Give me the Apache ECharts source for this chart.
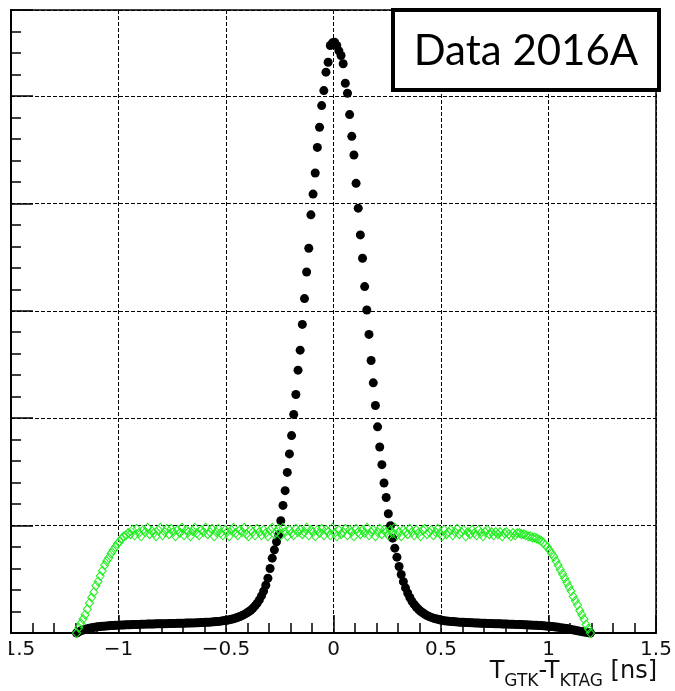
<!DOCTYPE html>
<html><head><meta charset="utf-8">
<script src="https://cdn.jsdelivr.net/npm/echarts@6/dist/echarts.min.js"></script>
<style>html,body{margin:0;padding:0;background:#fff;overflow:hidden;} #c{width:675px;height:691px;}</style>
</head><body><div id="c"></div>
<script>
// Histogram binning (bin centres start at BIN_START, width BIN_WIDTH, in ns)
const BIN_START = -1.195;
const BIN_WIDTH = 0.01;

// Black points: matched kaon timing T_GTK - T_KTAG (arbitrary units, gridline = 1)
const matchedCounts = [
0.000,0.010,0.020,0.028,0.035,0.040,0.045,0.049,0.052,0.055,
0.058,0.060,0.062,0.064,0.066,0.067,0.069,0.070,0.071,0.072,
0.073,0.074,0.075,0.076,0.077,0.077,0.078,0.079,0.080,0.080,
0.081,0.082,0.082,0.083,0.083,0.084,0.084,0.085,0.085,0.086,
0.086,0.087,0.087,0.088,0.088,0.089,0.089,0.090,0.090,0.091,
0.091,0.092,0.092,0.093,0.094,0.094,0.095,0.096,0.097,0.098,
0.099,0.100,0.101,0.103,0.104,0.106,0.108,0.110,0.113,0.116,
0.119,0.123,0.128,0.133,0.139,0.146,0.154,0.163,0.173,0.185,
0.198,0.212,0.230,0.252,0.278,0.308,0.345,0.390,0.445,0.510,
0.600,0.697,0.774,0.850,0.914,1.045,1.188,1.325,1.495,1.667,
1.838,2.034,2.220,2.447,2.633,2.873,3.113,3.361,3.582,3.893,
4.086,4.282,4.521,4.708,4.910,5.050,5.221,5.314,5.470,5.494,
5.500,5.470,5.420,5.376,5.300,5.118,5.025,4.826,4.624,4.450,
4.186,3.955,3.706,3.489,3.225,3.007,2.780,2.537,2.329,2.118,
1.919,1.732,1.567,1.396,1.262,1.110,0.998,0.883,0.790,0.706,
0.619,0.545,0.478,0.420,0.372,0.330,0.295,0.266,0.242,0.221,
0.203,0.188,0.175,0.163,0.153,0.145,0.138,0.132,0.127,0.122,
0.118,0.115,0.112,0.110,0.108,0.106,0.104,0.103,0.101,0.100,
0.099,0.098,0.097,0.096,0.095,0.094,0.093,0.092,0.091,0.090,
0.090,0.089,0.088,0.088,0.087,0.086,0.086,0.085,0.084,0.084,
0.083,0.082,0.082,0.081,0.080,0.080,0.079,0.078,0.077,0.076,
0.075,0.074,0.073,0.072,0.071,0.070,0.069,0.067,0.066,0.064,
0.062,0.060,0.058,0.056,0.053,0.050,0.047,0.044,0.041,0.037,
0.033,0.029,0.025,0.021,0.017,0.013,0.009,0.006,0.003,0.000
];

// Green open diamonds: accidental (flat) timing distribution
const accidentalCounts = [
0.00,0.05,0.09,0.13,0.17,0.22,0.28,0.33,0.38,0.44,
0.48,0.53,0.58,0.63,0.67,0.70,0.74,0.77,0.80,0.83,
0.85,0.88,0.90,0.91,0.93,0.92,
0.96,0.91,0.97,0.93,0.90,0.96,0.94,0.98,0.92,0.95,
0.93,0.90,0.96,0.98,0.91,0.94,0.97,0.92,0.97,0.94,
0.90,0.96,0.93,0.98,0.91,0.96,0.94,0.90,0.95,0.98,
0.93,0.91,0.96,0.94,0.98,0.92,0.94,0.97,0.90,0.94,
0.97,0.93,0.91,0.96,0.94,0.90,0.96,0.98,0.93,0.91,
0.96,0.94,0.98,0.92,0.90,0.96,0.94,0.91,0.97,0.94,
0.91,0.96,0.93,0.90,0.96,0.98,0.92,0.94,0.97,0.91,
0.98,0.94,0.90,0.96,0.93,0.91,0.97,0.94,0.96,0.92,
0.94,0.98,0.91,0.96,0.94,0.90,0.96,0.93,0.97,0.91,
0.96,0.94,0.91,0.98,0.93,0.90,0.96,0.92,0.94,0.97,
0.91,0.96,0.94,0.90,0.97,0.94,0.92,0.96,0.93,0.98,
0.91,0.94,0.96,0.90,0.94,0.97,0.92,0.96,0.94,0.91,
0.96,0.93,0.98,0.91,0.94,0.90,0.96,0.94,0.92,0.97,
0.94,0.91,0.96,0.93,0.90,0.96,0.97,0.92,0.94,0.96,
0.91,0.94,0.97,0.93,0.90,0.96,0.92,0.94,0.96,0.91,
0.94,0.97,0.92,0.94,0.96,0.90,0.94,0.92,0.96,0.93,
0.91,0.96,0.93,0.90,0.94,0.96,0.92,0.94,0.91,0.94,
0.92,0.94,0.90,0.93,0.94,0.92,0.90,0.93,0.91,
0.93,0.93,0.92,0.92,0.91,0.90,0.90,0.89,0.89,0.88,
0.87,0.86,0.84,0.82,0.80,0.77,0.74,0.71,0.67,0.63,
0.59,0.55,0.51,0.47,0.43,0.39,0.34,0.30,0.26,0.21,
0.17,0.13,0.08,0.04,0.00
];

const xTickValues = [-1.5, -1, -0.5, 0, 0.5, 1, 1.5];
const xTickLabels = ['\u22121.5', '\u22121', '\u22120.5', '0', '0.5', '1', '1.5'];
const legendText = 'Data 2016A';

function toPoints(arr) {
  return arr.map((v, i) => [Math.round((BIN_START + i * BIN_WIDTH) * 1000) / 1000, v]);
}

const chart = echarts.init(document.getElementById('c'), null, {renderer: 'canvas'});
const dashed = {color: '#000', width: 1, type: [4, 2]};
chart.setOption({
  animation: false,
  backgroundColor: '#fff',
  grid: {left: 11, right: 19, top: 10, bottom: 58, show: true, borderColor: '#000', borderWidth: 1.5,
         backgroundColor: 'transparent', containLabel: false, outerBoundsMode: 'none'},
  xAxis: {
    type: 'value', min: -1.5, max: 1.5, interval: 0.5,
    axisLine: {show: true, onZero: false, lineStyle: {color: '#000', width: 2}},
    axisTick: {show: true, inside: true, length: 18, lineStyle: {color: '#000', width: 1.5}},
    minorTick: {show: true, splitNumber: 5, length: 10, lineStyle: {color: '#000', width: 1.5}},
    splitLine: {show: true, lineStyle: dashed},
    axisLabel: {
      show: true, margin: 7, fontFamily: 'DejaVu Sans', fontSize: 20, color: '#111',
      showMinLabel: true, showMaxLabel: true, hideOverlap: false,
      formatter: function (v) {
        const k = xTickValues.findIndex(t => Math.abs(t - v) < 1e-9);
        return k >= 0 ? xTickLabels[k] : '';
      }
    }
  },
  yAxis: [{
    type: 'value', min: 0, max: 5.8, interval: 1,
    axisLine: {show: true, onZero: false, lineStyle: {color: '#000', width: 2}},
    axisTick: {show: true, inside: true, length: 22, lineStyle: {color: '#000', width: 1.5}},
    splitLine: {show: true, lineStyle: dashed},
    axisLabel: {show: false}
  }, {
    type: 'value', min: 0, max: 5.8, interval: 0.2, position: 'left',
    axisLine: {show: false, onZero: false},
    axisTick: {show: true, inside: true, length: 10, lineStyle: {color: '#000', width: 1.5}},
    splitLine: {show: false},
    axisLabel: {show: false}
  }],
  series: [{
    type: 'scatter', yAxisIndex: 0, silent: true,
    data: toPoints(matchedCounts),
    symbol: 'circle', symbolSize: 9,
    itemStyle: {color: '#000', opacity: 1}
  }, {
    type: 'scatter', yAxisIndex: 0, silent: true,
    data: toPoints(accidentalCounts),
    symbol: 'diamond', symbolSize: [8, 9],
    itemStyle: {color: 'rgba(0,0,0,0)', borderColor: '#1fee1f', borderWidth: 1, opacity: 1}
  }],
  graphic: [{
    type: 'rect', z: 100,
    shape: {x: 393, y: 10, width: 266, height: 80},
    style: {fill: '#fff', stroke: '#000', lineWidth: 4}
  }, {
    type: 'text', z: 101, x: 526, y: 51,
    style: {text: legendText, fontFamily: 'Lato', fontSize: 42, fill: '#000', align: 'center', verticalAlign: 'middle'}
  }, {
    type: 'text', z: 101, x: 657, y: 690,
    style: {
      text: '{m|T}{s|GTK}{m|-T}{s|KTAG}{m| [ns]}',
      align: 'right', verticalAlign: 'bottom',
      rich: {
        m: {fontFamily: 'DejaVu Sans', fontSize: 24, fill: '#111', verticalAlign: 'bottom', padding: [0, 0, 6, 0]},
        s: {fontFamily: 'DejaVu Sans', fontSize: 17, fill: '#111', verticalAlign: 'bottom', padding: [0, 0, 0, 0]}
      }
    }
  }, {
    type: 'rect', z: 100,
    shape: {x: 0, y: 636, width: 9, height: 36},
    style: {fill: '#fff'}
  }]
});
</script>
</body></html>
